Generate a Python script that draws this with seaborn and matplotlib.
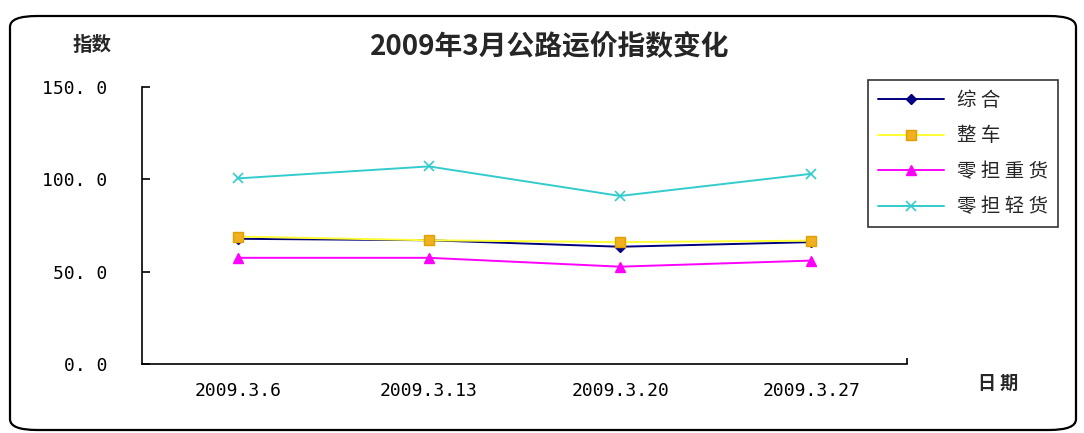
import matplotlib
matplotlib.use("Agg")
import matplotlib.pyplot as plt
import seaborn as sns
import pandas as pd
from matplotlib.patches import FancyBboxPatch
from matplotlib.lines import Line2D

dates = ["2009.3.6", "2009.3.13", "2009.3.20", "2009.3.27"]
series_names = ["综合", "整车", "零担重货", "零担轻货"]
zonghe = [67.8, 67.0, 63.5, 66.0]
zhengche = [69.0, 67.0, 66.0, 66.8]
zhonghuo = [57.5, 57.5, 52.7, 56.0]
qinghuo = [100.5, 107.0, 91.0, 103.0]
y_ticks = [0, 50, 100, 150]

values = [zonghe, zhengche, zhonghuo, qinghuo]
rows = []
for name, vals in zip(series_names, values):
    for i, (d, v) in enumerate(zip(dates, vals)):
        rows.append({"日期": d, "x": i, "系列": name, "指数": v})
df = pd.DataFrame(rows)

sns.set_theme(style="white")
plt.rcParams['font.family'] = ['Noto Sans CJK SC', 'DejaVu Sans']

fig = plt.figure(figsize=(10.84, 4.33), dpi=100)
fig.patch.set_facecolor("white")

frame = FancyBboxPatch((10 / 1084, 3 / 433), 1066 / 1084, 414 / 433,
                       boxstyle="round,pad=0,rounding_size=0.025",
                       transform=fig.transFigure, facecolor="none",
                       edgecolor="black", linewidth=1.6, zorder=-10)
fig.patches.append(frame)

ax = fig.add_axes([142 / 1084, 1 - 364 / 433, (907 - 142) / 1084, (364 - 87) / 433])
ax.set_facecolor("none")
ax.set_zorder(5)

styles = {
    "综合": dict(color="#000080", marker="D", markersize=5, mfc="#000080", mec="#000080", mew=1),
    "整车": dict(color="#FFFF33", marker="s", markersize=7, mfc="#F0B020", mec="#E0A000", mew=1),
    "零担重货": dict(color="#FF00FF", marker="^", markersize=7, mfc="#FF00FF", mec="#FF00FF", mew=1),
    "零担轻货": dict(color="#33CCCC", marker="x", markersize=7, mfc="#33CCCC", mec="#33CCCC", mew=1.2),
}
for name in series_names:
    st = styles[name]
    sns.lineplot(data=df[df["系列"] == name], x="x", y="指数", color=st["color"],
                 marker=st["marker"], markersize=st["markersize"],
                 markerfacecolor=st["mfc"], markeredgecolor=st["mec"],
                 markeredgewidth=st["mew"], linewidth=1.4, ax=ax, legend=False)

ax.set_xlim(-0.5, 3.5)
ax.set_ylim(0, 150)
ax.set_yticks(y_ticks)
ax.set_yticklabels([f"{v:.1f}".replace(".", ". ") for v in y_ticks],
                   fontsize=13, family=['DejaVu Sans Mono'])
ax.set_xticks(range(len(dates)))
ax.set_xticklabels(dates, fontsize=13, family=['DejaVu Sans Mono'])
ax.set_xticks([3.5], minor=True)
ax.tick_params(axis="x", which="major", length=0, pad=13, colors="black")
ax.tick_params(axis="x", which="minor", length=4, width=1.2, direction="in", bottom=True, color="black")
ax.tick_params(axis="y", length=6, width=1.2, direction="in", left=True, pad=25, colors="black")
ax.set_xlabel("")
ax.set_ylabel("")
for s in ["top", "right"]:
    ax.spines[s].set_visible(False)
for s in ["left", "bottom"]:
    ax.spines[s].set_color("black")
    ax.spines[s].set_linewidth(1.2)

fig.text(550 / 1084, 1 - 47 / 433, "2009年3月公路运价指数变化", ha="center", va="center",
         fontsize=20, fontweight="bold")
fig.text(92 / 1084, 1 - 45 / 433, "指数", ha="center", va="center", fontsize=14, fontweight="bold")
fig.text(998 / 1084, 1 - 383 / 433, "日 期", ha="center", va="center", fontsize=13, fontweight="bold")

handles = []
for name in series_names:
    st = styles[name]
    handles.append(Line2D([], [], color=st["color"], marker=st["marker"],
                          markersize=st["markersize"], markerfacecolor=st["mfc"],
                          markeredgecolor=st["mec"], markeredgewidth=st["mew"], linewidth=1.4))
leg = fig.legend(handles, [" ".join(n) for n in series_names], loc="upper left",
                 bbox_to_anchor=(868 / 1084, 1 - 80 / 433), fontsize=14,
                 frameon=True, fancybox=False, handlelength=3.4, labelspacing=0.75,
                 borderpad=0.5, handletextpad=0.7, borderaxespad=0)
leg.get_frame().set_edgecolor("black")
leg.get_frame().set_linewidth(1.2)

fig.savefig("out.png", dpi=100)
